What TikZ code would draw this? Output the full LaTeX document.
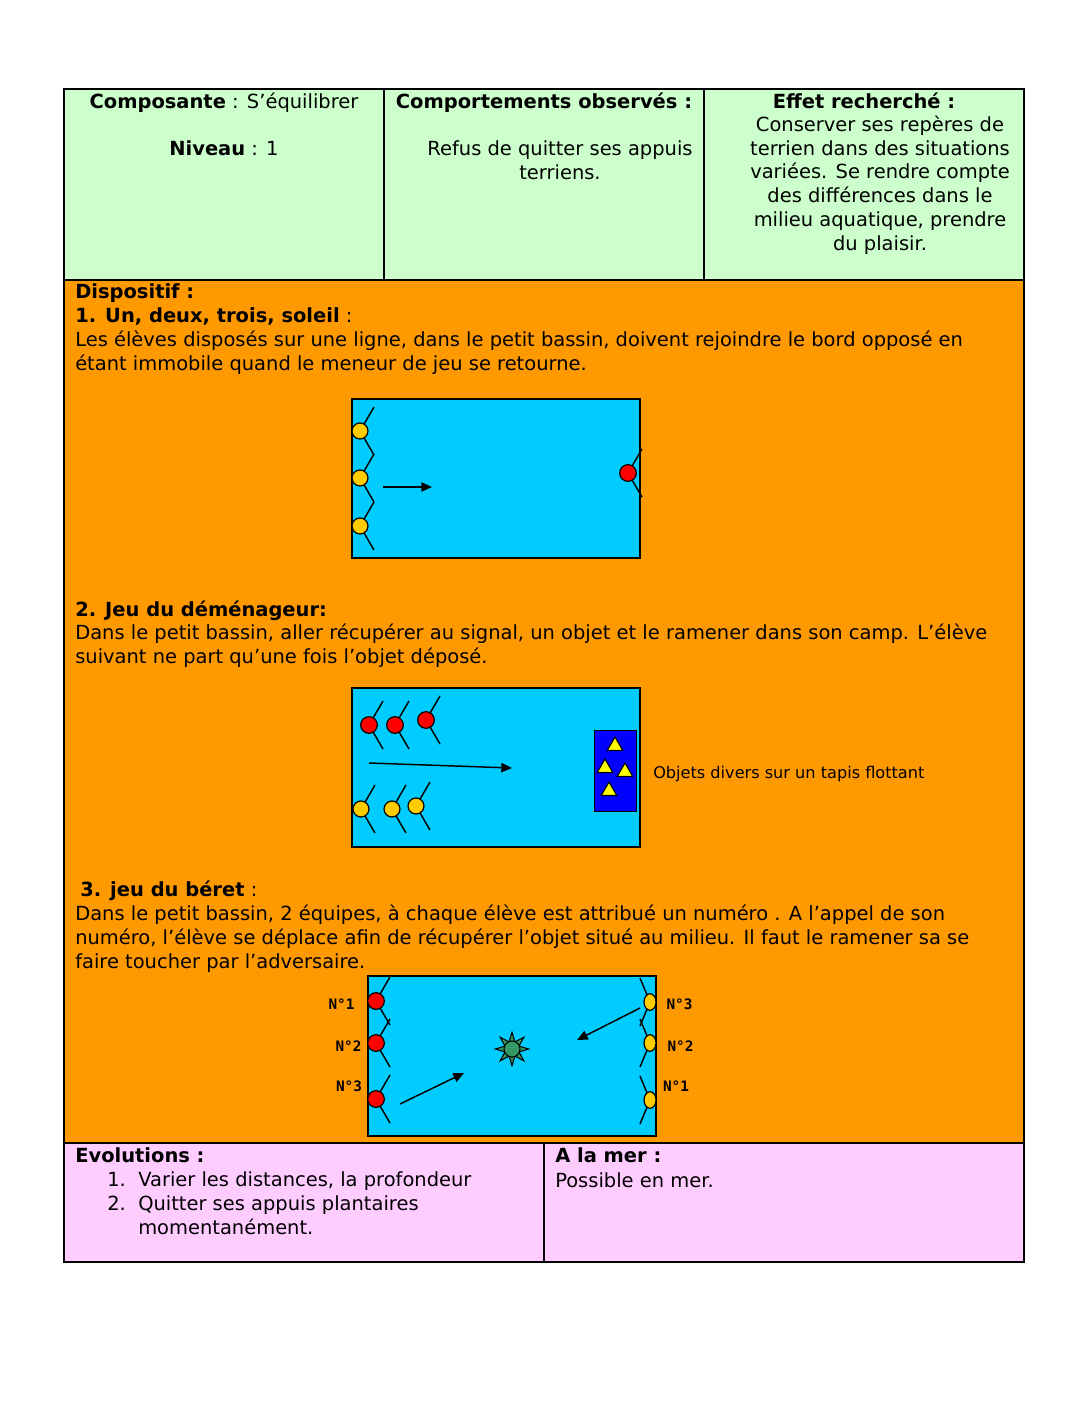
\documentclass[tikz,border=0pt]{standalone}
\usepackage{fontspec}
\setmainfont{DejaVu Sans}
\newfontfamily\monof{DejaVu Sans Mono}
\usetikzlibrary{arrows.meta,shapes.geometric}
\definecolor{greenc}{HTML}{CCFFCC}
\definecolor{orangec}{HTML}{FF9900}
\definecolor{pinkc}{HTML}{FFCCFF}
\definecolor{poolc}{HTML}{00CCFF}
\definecolor{yelc}{HTML}{FFCC00}
\definecolor{redc}{HTML}{FF0000}
\definecolor{matc}{HTML}{0000FF}
\definecolor{tric}{HTML}{FFFF00}
\definecolor{starc}{HTML}{339966}
\newcommand\myplayer[5]{% name, x, y, dx, style
  \coordinate (#1c) at (#2,#3);
  \draw[pline] (#1c) -- ++(#4,-24);
  \draw[pline] (#1c) -- ++(#4,24);
  \node[#5] (#1) at (#1c) {};}
\begin{document}
\begin{tikzpicture}[x=0.75pt,y=-0.75pt,
  txt/.style={anchor=base west,inner sep=0pt,font=\fontsize{14.6}{18}\selectfont},
  ctxt/.style={txt,anchor=base},
  small/.style={anchor=base west,inner sep=0pt,font=\fontsize{12.1}{14}\selectfont},
  numlab/.style={anchor=base,inner sep=0pt,font=\monof\bfseries\fontsize{10.8}{12}\selectfont},
  cellb/.style={draw=black,line width=0.9pt},
  pool/.style={draw=black,fill=poolc,line width=1.1pt},
  pline/.style={line width=1.1pt},
  yel/.style={circle,draw=black,fill=yelc,line width=0.9pt,minimum size=12pt,inner sep=0pt},
  red/.style={circle,draw=black,fill=redc,line width=0.9pt,minimum size=12.5pt,inner sep=0pt},
  yelo/.style={ellipse,draw=black,fill=yelc,line width=0.9pt,minimum width=9pt,minimum height=12.5pt,inner sep=0pt},
  tri/.style={regular polygon,regular polygon sides=3,draw=black,fill=tric,line width=0.8pt,minimum size=13.5pt,inner sep=0pt},
  arr/.style={line width=1.1pt,-{Triangle[length=8pt,width=7pt]}}
]
\useasboundingbox (0,0) rectangle (1088,1408);
\fill[white] (0,0) rectangle (1088,1408);
% cells
\fill[greenc] (64,89) rectangle (1024,280);
\fill[orangec] (64,280) rectangle (1024,1143);
\fill[pinkc] (64,1143) rectangle (1024,1262);
\draw[cellb] (64,89) rectangle (1024,1262);
\draw[cellb] (64,280) -- (1024,280);
\draw[cellb] (64,1143) -- (1024,1143);
\draw[cellb] (384,89) -- (384,280);
\draw[cellb] (704,89) -- (704,280);
\draw[cellb] (544,1143) -- (544,1262);

% header texts
\node[ctxt] (h1) at (224,109) {\textbf{Composante} : S’équilibrer};
\node[ctxt] (h2) at (224,156) {\textbf{Niveau} : 1};
\node[ctxt] (h3) at (544,109) {\textbf{Comportements observés :}};
\node[ctxt] (h4) at (560,156) {Refus de quitter ses appuis};
\node[ctxt] (h5) at (560,180) {terriens.};
\node[ctxt] (h6) at (864,109) {\textbf{Effet recherché :}};
\node[ctxt] (h7) at (880,132) {Conserver ses repères de};
\node[ctxt] (h8) at (880,156) {terrien dans des situations};
\node[ctxt] (h9) at (880,179) {variées. Se rendre compte};
\node[ctxt] (h10) at (880,203) {des différences dans le};
\node[ctxt] (h11) at (880,227) {milieu aquatique, prendre};
\node[ctxt] (h12) at (880,251) {du plaisir.};

% dispositif texts
\node[txt] (d0) at (75,299) {\textbf{Dispositif :}};
\node[txt] (d1) at (75,323) {\textbf{1. Un, deux, trois, soleil} :};
\node[txt] (d2) at (75,347) {Les élèves disposés sur une ligne, dans le petit bassin, doivent rejoindre le bord opposé en};
\node[txt] (d3) at (75,371) {étant immobile quand le meneur de jeu se retourne.};
\node[txt] (d4) at (75,616) {\textbf{2. Jeu du déménageur:}};
\node[txt] (d5) at (75,639) {Dans le petit bassin, aller récupérer au signal, un objet et le ramener dans son camp. L’élève};
\node[txt] (d6) at (75,663) {suivant ne part qu’une fois l’objet déposé.};
\node[txt] (d7) at (80,896) {\textbf{3. jeu du béret} :};
\node[txt] (d8) at (75,920) {Dans le petit bassin, 2 équipes, à chaque élève est attribué un numéro . A l’appel de son};
\node[txt] (d9) at (75,944) {numéro, l’élève se déplace afin de récupérer l’objet situé au milieu. Il faut le ramener sa se};
\node[txt] (d10) at (75,968) {faire toucher par l’adversaire.};

% pool 1
\draw[pool] (352,399) rectangle (640,558);
\myplayer{pa}{360}{431}{14}{yel}
\myplayer{pb}{360}{478}{14}{yel}
\myplayer{pc}{360}{526}{14}{yel}
\myplayer{pd}{628}{473}{14}{red}
\coordinate (a1s) at (383,487);
\coordinate (a1e) at (432,487);
\draw[arr] (a1s) -- (a1e);

% pool 2
\draw[pool] (352,688) rectangle (640,847);
\myplayer{qa}{369}{725}{14}{red}
\myplayer{qb}{395}{725}{14}{red}
\myplayer{qc}{426}{720}{14}{red}
\myplayer{qd}{361}{809}{14}{yel}
\myplayer{qe}{392}{809}{14}{yel}
\myplayer{qf}{416}{806}{14}{yel}
\coordinate (a2s) at (369,763);
\coordinate (a2e) at (512,768);
\draw[arr] (a2s) -- (a2e);
\node[draw=black,fill=matc,line width=0.9pt,minimum width=32pt,minimum height=60.75pt,inner sep=0pt] (mat) at (615.5,771) {};
\node[tri] (t1) at (615,746) {};
\node[tri] (t2) at (605,768) {};
\node[tri] (t3) at (625,772) {};
\node[tri] (t4) at (609,791) {};
\node[small] (lab) at (653,778) {Objets divers sur un tapis flottant};

% pool 3
\draw[pool] (368,976) rectangle (656,1136);
\myplayer{ra}{376}{1001}{14}{red}
\myplayer{rb}{376}{1043}{14}{red}
\myplayer{rc}{376}{1099}{14}{red}
\myplayer{sa}{650}{1002}{-10}{yelo}
\myplayer{sb}{650}{1043}{-10}{yelo}
\myplayer{sc}{650}{1100}{-10}{yelo}
\node[numlab] (n1) at (341.5,1009) {N°1};
\node[numlab] (n2) at (348.5,1051) {N°2};
\node[numlab] (n3) at (349,1091) {N°3};
\node[numlab] (m3) at (679.5,1009) {N°3};
\node[numlab] (m2) at (680.5,1051) {N°2};
\node[numlab] (m1) at (676,1091) {N°1};
\node[star,star points=8,star point ratio=2.2,draw=black,fill=starc,line width=0.8pt,minimum size=25pt,inner sep=0pt] (st) at (512,1049) {};
\node[circle,draw=black,fill=starc,line width=0.8pt,minimum size=12pt,inner sep=0pt] (ball) at (512,1049) {};
\coordinate (a3s) at (400,1104);
\coordinate (a3e) at (464,1073);
\draw[arr] (a3s) -- (a3e);
\coordinate (a4s) at (640,1008);
\coordinate (a4e) at (577,1040);
\draw[arr] (a4s) -- (a4e);

% bottom row
\node[txt] (e0) at (75,1162) {\textbf{Evolutions :}};
\node[txt] (e1n) at (107,1186) {1.};
\node[txt] (e1) at (138,1186) {Varier les distances, la profondeur};
\node[txt] (e2n) at (107,1210) {2.};
\node[txt] (e2) at (138,1210) {Quitter ses appuis plantaires};
\node[txt] (e3) at (138,1234) {momentanément.};
\node[txt] (f0) at (555,1162) {\textbf{A la mer :}};
\node[txt] (f1) at (555,1187) {Possible en mer.};
\end{tikzpicture}
\end{document}
